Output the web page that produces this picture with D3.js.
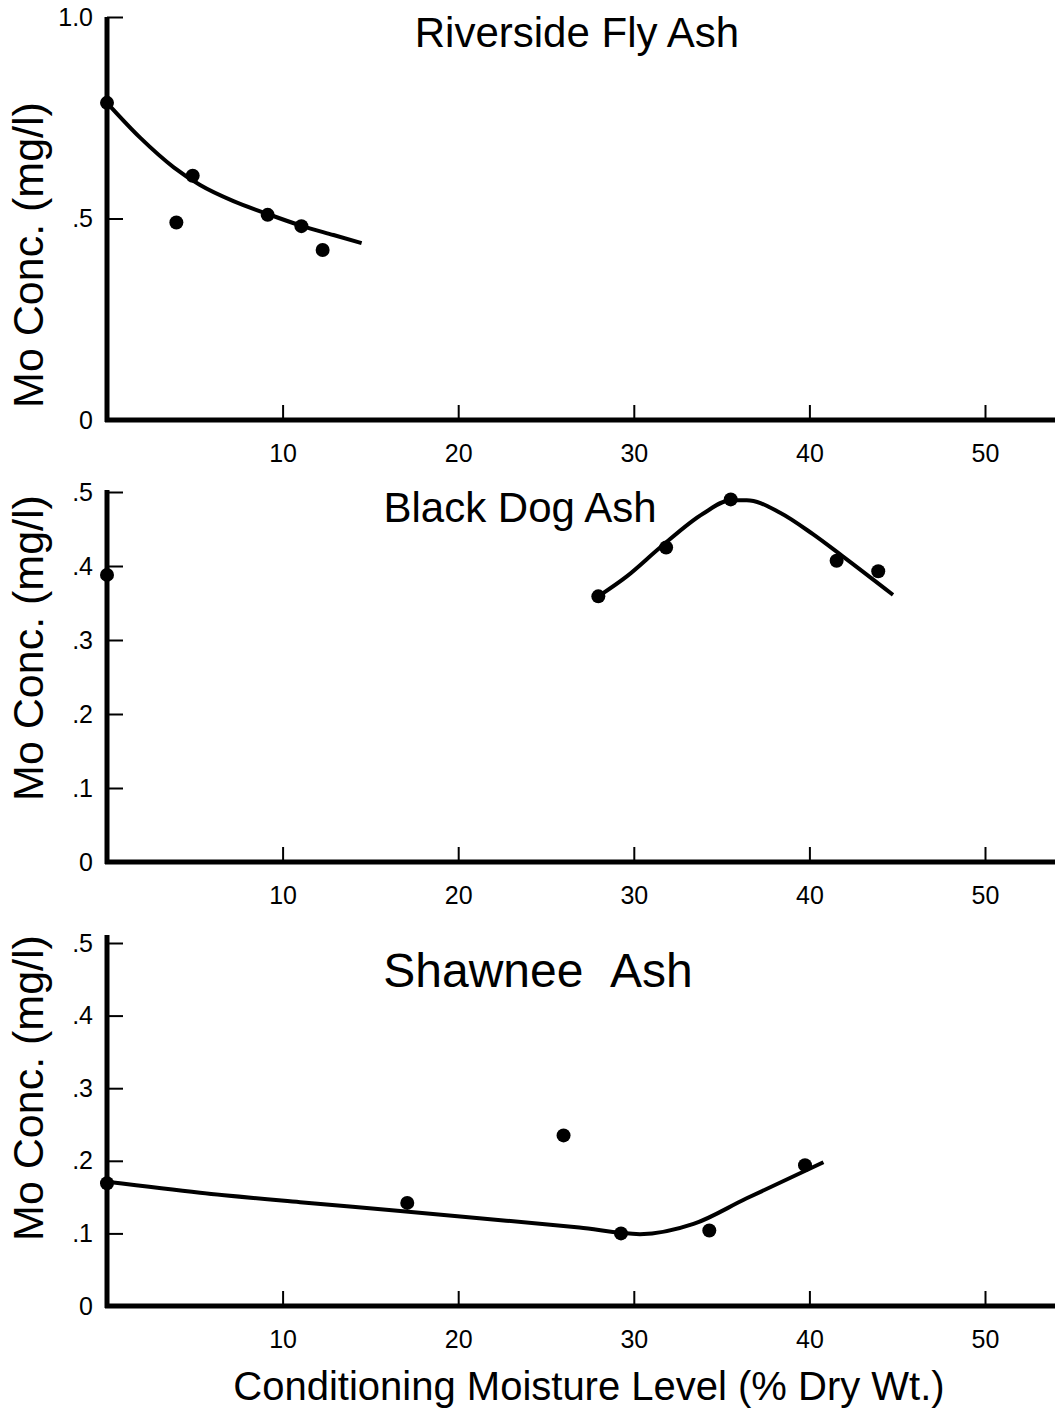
<!DOCTYPE html>
<html lang="en">
<head>
<meta charset="UTF-8">
<title>Mo Concentration vs Conditioning Moisture</title>
<script src="https://cdnjs.cloudflare.com/ajax/libs/d3/7.8.5/d3.min.js"></script>
<style>
  html, body { margin: 0; padding: 0; background: #fff; }
  svg { display: block; font-family: "Liberation Sans", Arial, Helvetica, sans-serif; }
  .tick text { fill: #000; }
</style>
</head>
<body>
<div id="chart"></div>
<script>
// x axis (shared)
const xTicks = [10, 20, 30, 40, 50];

// Riverside Fly Ash
const riversideTitle = "Riverside Fly Ash";
const riversideYTicks = [0, 0.5, 1.0];
const riversideYLabels = ["0", ".5", "1.0"];
const riversidePoints = [[0, 0.787], [3.95, 0.49], [4.88, 0.606], [9.15, 0.509], [11.07, 0.481], [12.28, 0.422]];
const riversideCurve = [[0, 0.787], [1.9, 0.70], [3.8, 0.627], [5.3, 0.583], [7.2, 0.543], [9.1, 0.512], [11.0, 0.483], [12.9, 0.459], [14.5, 0.439]];

// Black Dog Ash
const blackDogTitle = "Black Dog Ash";
const blackDogYTicks = [0, 0.1, 0.2, 0.3, 0.4, 0.5];
const blackDogYLabels = ["0", ".1", ".2", ".3", ".4", ".5"];
const blackDogPoints = [[0, 0.388], [27.98, 0.359], [31.84, 0.425], [35.52, 0.49], [41.55, 0.407], [43.92, 0.393]];
const blackDogCurve = [[27.98, 0.359], [29.6, 0.386], [31.5, 0.425], [33.96, 0.471], [35.52, 0.489], [36.43, 0.489], [38.33, 0.472], [40.2, 0.443], [41.9, 0.413], [44.76, 0.361]];

// Shawnee Ash
const shawneeTitle = "Shawnee\u00a0\u00a0Ash";
const shawneeYTicks = [0, 0.1, 0.2, 0.3, 0.4, 0.5];
const shawneeYLabels = ["0", ".1", ".2", ".3", ".4", ".5"];
const shawneePoints = [[0, 0.169], [17.1, 0.142], [26.0, 0.235], [29.27, 0.1], [34.3, 0.104], [39.75, 0.194]];
const shawneeCurve = [[0, 0.171], [5.3, 0.156], [11.0, 0.143], [16.7, 0.131], [21.2, 0.121], [26.9, 0.108], [30.35, 0.099], [33.4, 0.113], [36.4, 0.148], [40.8, 0.198]];

const yLabel = "Mo Conc.\u00a0(mg/l)";
const xLabel = "Conditioning Moisture Level (% Dry Wt.)";

const W = 1055, H = 1410;
const svg = d3.select('#chart').append('svg')
  .attr('width', W)
  .attr('height', H);

const x = d3.scaleLinear().domain([0, 50]).range([107, 985]);

const panels = [
  { title: riversideTitle, ticks: riversideYTicks, labels: riversideYLabels, pts: riversidePoints, curve: riversideCurve,
    yMax: 1.0, top: 17, bottom: 420, axisTop: 17, titleX: 577, titleY: 47, titleSize: 42, labelY: 255 },
  { title: blackDogTitle, ticks: blackDogYTicks, labels: blackDogYLabels, pts: blackDogPoints, curve: blackDogCurve,
    yMax: 0.5, top: 492, bottom: 862, axisTop: 490, titleX: 520, titleY: 522, titleSize: 42, labelY: 648 },
  { title: shawneeTitle, ticks: shawneeYTicks, labels: shawneeYLabels, pts: shawneePoints, curve: shawneeCurve,
    yMax: 0.5, top: 943, bottom: 1306, axisTop: 935, titleX: 538, titleY: 987, titleSize: 48, labelY: 1088 }
];

panels.forEach(p => {
  const y = d3.scaleLinear().domain([0, p.yMax]).range([p.bottom, p.top]);
  const g = svg.append('g');

  // y axis: ticks pointing inward
  const yAxis = d3.axisLeft(y)
    .tickValues(p.ticks)
    .tickFormat((d, i) => p.labels[i])
    .tickSizeInner(-16)
    .tickSizeOuter(0)
    .tickPadding(14);
  const ya = g.append('g').attr('transform', `translate(${x(0)},0)`).call(yAxis);
  ya.attr('font-size', null).attr('font-family', null);
  ya.select('.domain').remove();
  ya.selectAll('.tick line').attr('stroke', '#000').attr('stroke-width', 2);
  ya.selectAll('.tick text').style('font-size', '25px');

  // x axis: ticks pointing up
  const xAxis = d3.axisBottom(x)
    .tickValues(xTicks)
    .tickSizeInner(-15)
    .tickSizeOuter(0)
    .tickPadding(24);
  const xa = g.append('g').attr('transform', `translate(0,${p.bottom})`).call(xAxis);
  xa.attr('font-size', null).attr('font-family', null);
  xa.select('.domain').remove();
  xa.selectAll('.tick line').attr('stroke', '#000').attr('stroke-width', 2);
  xa.selectAll('.tick text').style('font-size', '25px');

  // axis lines
  g.append('line')
    .attr('x1', x(0)).attr('x2', x(0))
    .attr('y1', p.axisTop).attr('y2', p.bottom + 2)
    .attr('stroke', '#000').attr('stroke-width', 5);
  g.append('line')
    .attr('x1', x(0) - 2).attr('x2', W)
    .attr('y1', p.bottom).attr('y2', p.bottom)
    .attr('stroke', '#000').attr('stroke-width', 5);

  // fitted curve
  const line = d3.line()
    .x(d => x(d[0]))
    .y(d => y(d[1]))
    .curve(d3.curveMonotoneX);
  g.append('path')
    .datum(p.curve)
    .attr('d', line)
    .attr('fill', 'none')
    .attr('stroke', '#000')
    .attr('stroke-width', 4);

  // data points
  g.selectAll('circle')
    .data(p.pts)
    .enter()
    .append('circle')
    .attr('cx', d => x(d[0]))
    .attr('cy', d => y(d[1]))
    .attr('r', 7)
    .attr('fill', '#000');

  // title
  g.append('text')
    .attr('x', p.titleX)
    .attr('y', p.titleY)
    .attr('text-anchor', 'middle')
    .attr('font-size', p.titleSize)
    .text(p.title);

  // y label
  g.append('text')
    .attr('transform', `translate(43,${p.labelY}) rotate(-90)`)
    .attr('text-anchor', 'middle')
    .attr('font-size', 43)
    .text(yLabel);
});

svg.append('text')
  .attr('x', 589)
  .attr('y', 1400)
  .attr('text-anchor', 'middle')
  .attr('font-size', 40)
  .text(xLabel);
</script>
</body>
</html>
